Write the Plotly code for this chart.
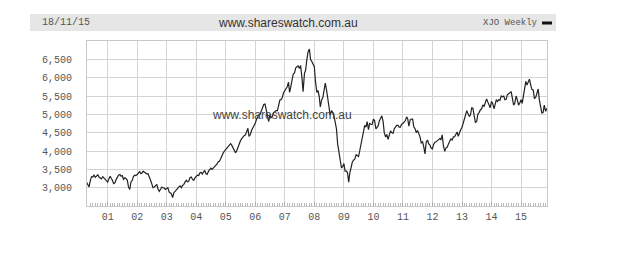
import plotly.graph_objects as go

# Semi-monthly XJO closes (1st and 15th of each month)
v2000 = [3150, 3080, 3020, 3200, 3300, 3290, 3340, 3280, 3320, 3350, 3290, 3260, 3240, 3300, 3270, 3220, 3200]  # from Apr 15
v2001 = [3150, 3240, 3310, 3250, 3200, 3110, 3130, 3220, 3290, 3340, 3360, 3310, 3330, 3230, 3270, 3250, 3200, 3020, 2950, 3150, 3200, 3300, 3340, 3330]
v2002 = [3360, 3410, 3440, 3380, 3400, 3450, 3420, 3400, 3370, 3380, 3300, 3200, 3100, 3000, 3020, 3060, 3090, 2960, 2900, 2950, 3010, 3000, 2990, 2950]
v2003 = [2980, 3000, 2880, 2860, 2830, 2730, 2870, 2900, 2950, 2960, 3020, 3050, 3000, 3060, 3090, 3150, 3200, 3160, 3180, 3270, 3290, 3230, 3200, 3260]
v2004 = [3310, 3340, 3330, 3400, 3420, 3370, 3430, 3470, 3380, 3360, 3450, 3490, 3530, 3500, 3540, 3560, 3620, 3650, 3710, 3720, 3800, 3890, 3950, 4000]
v2005 = [4050, 4080, 4110, 4150, 4200, 4160, 4080, 3990, 3950, 4000, 4100, 4230, 4280, 4330, 4400, 4420, 4440, 4560, 4620, 4400, 4450, 4560, 4620, 4700]
v2006 = [4760, 4860, 4920, 4990, 5000, 5100, 5180, 5270, 5280, 5090, 4950, 4800, 4990, 4900, 4950, 5040, 5090, 5100, 5100, 5260, 5390, 5400, 5460, 5580]
v2007 = [5650, 5700, 5760, 5880, 5600, 5740, 5990, 6100, 6130, 6260, 6300, 6320, 6250, 6330, 6000, 5620, 6120, 6200, 6500, 6700, 6780, 6500, 6440, 6360]
v2008 = [6300, 5900, 5600, 5650, 5500, 5200, 5400, 5450, 5700, 5850, 5650, 5450, 5100, 4980, 5100, 5050, 4950, 4750, 4600, 4200, 3950, 3700, 3550, 3570]
v2009 = [3660, 3450, 3450, 3400, 3150, 3400, 3550, 3700, 3750, 3780, 3900, 3880, 3850, 4000, 4200, 4320, 4500, 4700, 4650, 4800, 4580, 4750, 4730, 4720]
v2010 = [4870, 4830, 4600, 4650, 4690, 4820, 4900, 4960, 4800, 4500, 4380, 4450, 4320, 4400, 4550, 4500, 4480, 4600, 4640, 4700, 4700, 4650, 4650, 4730]
v2011 = [4750, 4790, 4830, 4930, 4880, 4680, 4850, 4870, 4870, 4660, 4600, 4500, 4560, 4480, 4380, 4220, 4250, 4120, 3920, 4240, 4300, 4200, 4160, 4080]
v2012 = [4060, 4180, 4240, 4250, 4280, 4300, 4340, 4310, 4440, 4150, 3990, 4080, 4100, 4180, 4250, 4330, 4300, 4380, 4390, 4460, 4520, 4400, 4520, 4580]
v2013 = [4650, 4760, 4890, 5000, 5100, 5020, 4950, 4980, 5180, 5170, 4920, 4780, 4800, 5000, 5050, 5120, 5150, 5260, 5220, 5340, 5420, 5340, 5220, 5180]
v2014 = [5350, 5300, 5150, 5300, 5400, 5350, 5400, 5380, 5500, 5480, 5500, 5400, 5410, 5530, 5560, 5580, 5620, 5450, 5250, 5300, 5500, 5400, 5250, 5300]
v2015 = [5400, 5300, 5560, 5800, 5900, 5800, 5900, 5960, 5790, 5680, 5660, 5430, 5460, 5600, 5690, 5400, 5200, 5040, 5050, 5250, 5080, 5160]

year_series = {2000: v2000, 2001: v2001, 2002: v2002, 2003: v2003, 2004: v2004,
               2005: v2005, 2006: v2006, 2007: v2007, 2008: v2008, 2009: v2009,
               2010: v2010, 2011: v2011, 2012: v2012, 2013: v2013, 2014: v2014,
               2015: v2015}

y_ticks = [3000, 3500, 4000, 4500, 5000, 5500, 6000, 6500]
y_labels = ["3,000", "3,500", "4,000", "4,500", "5,000", "5,500", "6,000", "6,500"]

dates, values = [], []
for yr, vals in year_series.items():
    slots = [f"{yr}-{m:02d}-{d:02d}" for m in range(1, 13) for d in (1, 15)]
    if yr == 2000:
        slots = slots[-len(vals):]
    else:
        slots = slots[:len(vals)]
    dates += slots
    values += vals

L, R, T, B = 87, 86, 41, 68
W, H = 633, 274
pw, ph = W - L - R, H - T - B


def px(x):
    return (x - L) / pw


def py(y):
    return (H - B - y) / ph


mono = "Liberation Mono"
fig = go.Figure()
fig.add_trace(go.Scatter(x=dates, y=values, mode="lines",
                         line=dict(color="#222222", width=1.2), showlegend=False,
                         hoverinfo="skip"))

fig.update_layout(
    width=W, height=H, margin=dict(l=L, r=R, t=T, b=B),
    paper_bgcolor="white", plot_bgcolor="white",
    xaxis=dict(range=["2000-04-20", "2015-11-18"], type="date",
               tick0="2001-01-01", dtick="M12", tickformat="%y",
               showgrid=True, gridcolor="#d4d4d4", gridwidth=1,
               ticks="inside", ticklen=4, tickcolor="#aaaaaa",
               minor=dict(dtick="M1", ticks="inside", ticklen=3,
                          tickcolor="#bbbbbb", showgrid=False),
               showline=True, linecolor="#c8c8c8", mirror=True,
               ticklabelstandoff=1,
               tickfont=dict(family=mono, size=10, color="#555555"),
               zeroline=False, fixedrange=True),
    yaxis=dict(range=[2500, 7000], tickvals=y_ticks, ticktext=y_labels,
               showgrid=True, gridcolor="#d4d4d4", gridwidth=1,
               showline=True, linecolor="#c8c8c8", mirror=True,
               ticks="", ticklabelstandoff=12,
               tickfont=dict(family=mono, size=10, color="#555555"),
               zeroline=False, fixedrange=True),
    shapes=[
        dict(type="rect", xref="paper", yref="paper",
             x0=px(30), x1=px(556), y0=py(31), y1=py(14),
             fillcolor="#e6e6e6", line=dict(width=0), layer="below"),
        dict(type="line", xref="paper", yref="paper",
             x0=px(542), x1=px(552), y0=py(23), y1=py(23),
             line=dict(color="#111111", width=3)),
    ],
    annotations=[
        dict(text="18/11/15", xref="paper", yref="paper", x=px(40), y=py(23),
             xanchor="left", yanchor="middle", showarrow=False,
             font=dict(family=mono, size=10, color="#555555")),
        dict(text="www.shareswatch.com.au", xref="paper", yref="paper",
             x=px(288), y=py(23), xanchor="center", yanchor="middle",
             showarrow=False,
             font=dict(family="Liberation Sans", size=12, color="#333333")),
        dict(text="XJO Weekly", xref="paper", yref="paper", x=px(540), y=py(23),
             xanchor="right", yanchor="middle", showarrow=False,
             font=dict(family=mono, size=9, color="#555555")),
        dict(text="www.shareswatch.com.au", xref="paper", yref="paper",
             x=px(282), y=py(115), xanchor="center", yanchor="middle",
             showarrow=False,
             font=dict(family="Liberation Sans", size=12, color="#444444")),
    ],
)

fig.write_html("out.html")
